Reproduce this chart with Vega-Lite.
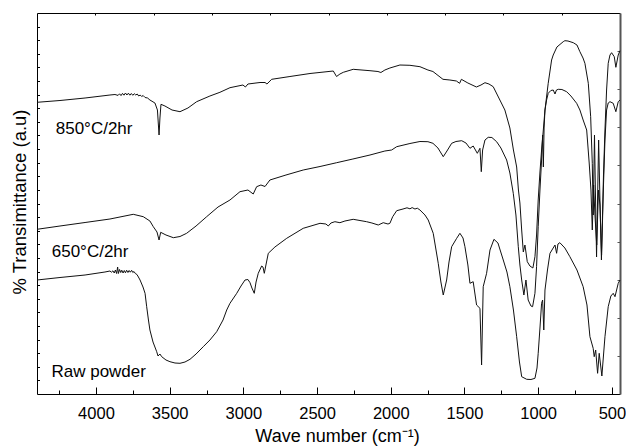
{
  "$schema": "https://vega.github.io/schema/vega-lite/v6.json",
  "width": 583,
  "height": 381,
  "autosize": {"type": "none"},
  "padding": {"left": 37, "top": 13, "right": 6, "bottom": 52},
  "config": {"view": {"stroke": null}, "font": "Liberation Sans"},
  "datasets": {
    "spectra": [
      {"series":"850","wn":4400,"T":291.7},{"series":"850","wn":4244,"T":293.5},{"series":"850","wn":4074,"T":296},{"series":"850","wn":3905,"T":299},{"series":"850","wn":3871,"T":299.5},{"series":"850","wn":3850,"T":298.6},{"series":"850","wn":3840,"T":300.2},{"series":"850","wn":3830,"T":298.4},{"series":"850","wn":3820,"T":300.6},{"series":"850","wn":3810,"T":298.8},{"series":"850","wn":3800,"T":301},{"series":"850","wn":3790,"T":299},{"series":"850","wn":3780,"T":300.8},{"series":"850","wn":3770,"T":298.8},{"series":"850","wn":3760,"T":300.5},{"series":"850","wn":3750,"T":298.7},{"series":"850","wn":3740,"T":300.3},{"series":"850","wn":3730,"T":299},{"series":"850","wn":3720,"T":300},{"series":"850","wn":3710,"T":298},{"series":"850","wn":3700,"T":299},{"series":"850","wn":3690,"T":297.5},{"series":"850","wn":3680,"T":298.5},{"series":"850","wn":3667,"T":296.5},{"series":"850","wn":3650,"T":296},{"series":"850","wn":3634,"T":294},{"series":"850","wn":3600,"T":291},{"series":"850","wn":3583,"T":284},{"series":"850","wn":3572,"T":259},{"series":"850","wn":3566,"T":276},{"series":"850","wn":3559,"T":289.7},{"series":"850","wn":3532,"T":288},{"series":"850","wn":3484,"T":284},{"series":"850","wn":3430,"T":282.3},{"series":"850","wn":3376,"T":286},{"series":"850","wn":3317,"T":292.3},{"series":"850","wn":3227,"T":298},{"series":"850","wn":3159,"T":301.7},{"series":"850","wn":3091,"T":306.3},{"series":"850","wn":3003,"T":309},{"series":"850","wn":2986,"T":307},{"series":"850","wn":2969,"T":310},{"series":"850","wn":2887,"T":311.5},{"series":"850","wn":2853,"T":311.5},{"series":"850","wn":2840,"T":310},{"series":"850","wn":2808,"T":314.7},{"series":"850","wn":2684,"T":317.5},{"series":"850","wn":2548,"T":320.5},{"series":"850","wn":2390,"T":323},{"series":"850","wn":2368,"T":317.5},{"series":"850","wn":2345,"T":320},{"series":"850","wn":2322,"T":321.7},{"series":"850","wn":2255,"T":324.7},{"series":"850","wn":2141,"T":323.3},{"series":"850","wn":2087,"T":322.5},{"series":"850","wn":2067,"T":321.5},{"series":"850","wn":2040,"T":324},{"series":"850","wn":2006,"T":326},{"series":"850","wn":1938,"T":329},{"series":"850","wn":1870,"T":328.7},{"series":"850","wn":1802,"T":327.3},{"series":"850","wn":1748,"T":324},{"series":"850","wn":1714,"T":322.5},{"series":"850","wn":1646,"T":314.7},{"series":"850","wn":1599,"T":314},{"series":"850","wn":1555,"T":313},{"series":"850","wn":1533,"T":310.7},{"series":"850","wn":1521,"T":314.7},{"series":"850","wn":1477,"T":311},{"series":"850","wn":1419,"T":307},{"series":"850","wn":1388,"T":309},{"series":"850","wn":1361,"T":311.3},{"series":"850","wn":1334,"T":310},{"series":"850","wn":1305,"T":307.3},{"series":"850","wn":1260,"T":294},{"series":"850","wn":1226,"T":284},{"series":"850","wn":1192,"T":266},{"series":"850","wn":1168,"T":244},{"series":"850","wn":1146,"T":227},{"series":"850","wn":1134,"T":204},{"series":"850","wn":1124,"T":191},{"series":"850","wn":1112,"T":164},{"series":"850","wn":1101,"T":142},{"series":"850","wn":1090,"T":149},{"series":"850","wn":1074,"T":132.3},{"series":"850","wn":1056,"T":128},{"series":"850","wn":1036,"T":126},{"series":"850","wn":1022,"T":137.3},{"series":"850","wn":1011,"T":159},{"series":"850","wn":1000,"T":194},{"series":"850","wn":988,"T":222},{"series":"850","wn":977,"T":244},{"series":"850","wn":968,"T":259},{"series":"850","wn":954,"T":284},{"series":"850","wn":932,"T":310.7},{"series":"850","wn":909,"T":334},{"series":"850","wn":898,"T":339},{"series":"850","wn":873,"T":347},{"series":"850","wn":830,"T":352.3},{"series":"850","wn":819,"T":353.3},{"series":"850","wn":798,"T":353},{"series":"850","wn":762,"T":351.3},{"series":"850","wn":737,"T":349},{"series":"850","wn":717,"T":342.3},{"series":"850","wn":696,"T":336},{"series":"850","wn":683,"T":330.7},{"series":"850","wn":660,"T":310.7},{"series":"850","wn":644,"T":277.3},{"series":"850","wn":633,"T":230.7},{"series":"850","wn":627,"T":179},{"series":"850","wn":618,"T":259},{"series":"850","wn":612,"T":204},{"series":"850","wn":604,"T":137},{"series":"850","wn":590,"T":254},{"series":"850","wn":581,"T":194},{"series":"850","wn":571,"T":134},{"series":"850","wn":557,"T":219},{"series":"850","wn":547,"T":264},{"series":"850","wn":536,"T":304},{"series":"850","wn":525,"T":330.7},{"series":"850","wn":513,"T":339},{"series":"850","wn":502,"T":341.3},{"series":"850","wn":484,"T":337.3},{"series":"850","wn":473,"T":326.7},{"series":"850","wn":457,"T":339},{"series":"850","wn":445,"T":343.3},
      {"series":"650","wn":4400,"T":164.7},{"series":"650","wn":4244,"T":168},{"series":"650","wn":4074,"T":171.5},{"series":"650","wn":3905,"T":175},{"series":"650","wn":3747,"T":179.7},{"series":"650","wn":3679,"T":177.3},{"series":"650","wn":3634,"T":173},{"series":"650","wn":3611,"T":167.3},{"series":"650","wn":3586,"T":162},{"series":"650","wn":3572,"T":154},{"series":"650","wn":3561,"T":161.7},{"series":"650","wn":3525,"T":159},{"series":"650","wn":3475,"T":156.3},{"series":"650","wn":3430,"T":157.5},{"series":"650","wn":3385,"T":160.7},{"series":"650","wn":3321,"T":168},{"series":"650","wn":3249,"T":177.3},{"series":"650","wn":3172,"T":187},{"series":"650","wn":3091,"T":194},{"series":"650","wn":3023,"T":202.3},{"series":"650","wn":2969,"T":204},{"series":"650","wn":2933,"T":200},{"series":"650","wn":2910,"T":207.3},{"series":"650","wn":2881,"T":209},{"series":"650","wn":2853,"T":207.5},{"series":"650","wn":2820,"T":214},{"series":"650","wn":2711,"T":219},{"series":"650","wn":2594,"T":224},{"series":"650","wn":2480,"T":227.5},{"series":"650","wn":2367,"T":231.3},{"series":"650","wn":2257,"T":235},{"series":"650","wn":2141,"T":239},{"series":"650","wn":2040,"T":243},{"series":"650","wn":1994,"T":244},{"series":"650","wn":1960,"T":247.3},{"series":"650","wn":1870,"T":250.5},{"series":"650","wn":1802,"T":252.5},{"series":"650","wn":1748,"T":252.3},{"series":"650","wn":1714,"T":250.7},{"series":"650","wn":1680,"T":246},{"series":"650","wn":1644,"T":237.3},{"series":"650","wn":1619,"T":243},{"series":"650","wn":1587,"T":250.7},{"series":"650","wn":1558,"T":252.5},{"series":"650","wn":1519,"T":253.3},{"series":"650","wn":1490,"T":251},{"series":"650","wn":1463,"T":245.7},{"series":"650","wn":1441,"T":248},{"series":"650","wn":1413,"T":240.7},{"series":"650","wn":1395,"T":245.7},{"series":"650","wn":1386,"T":222.3},{"series":"650","wn":1377,"T":244},{"series":"650","wn":1361,"T":254},{"series":"650","wn":1339,"T":256.7},{"series":"650","wn":1314,"T":256.5},{"series":"650","wn":1282,"T":252.3},{"series":"650","wn":1253,"T":246},{"series":"650","wn":1214,"T":234},{"series":"650","wn":1192,"T":221},{"series":"650","wn":1169,"T":200.7},{"series":"650","wn":1151,"T":179},{"series":"650","wn":1135,"T":147.3},{"series":"650","wn":1124,"T":129},{"series":"650","wn":1112,"T":114},{"series":"650","wn":1097,"T":99},{"series":"650","wn":1083,"T":114},{"series":"650","wn":1068,"T":94},{"series":"650","wn":1049,"T":88},{"series":"650","wn":1038,"T":87.3},{"series":"650","wn":1022,"T":100.7},{"series":"650","wn":1011,"T":127.3},{"series":"650","wn":1000,"T":167.3},{"series":"650","wn":988,"T":204},{"series":"650","wn":977,"T":234},{"series":"650","wn":970,"T":259},{"series":"650","wn":965,"T":227},{"series":"650","wn":960,"T":266},{"series":"650","wn":954,"T":284},{"series":"650","wn":943,"T":294},{"series":"650","wn":932,"T":300.7},{"series":"650","wn":914,"T":303.5},{"series":"650","wn":898,"T":304},{"series":"650","wn":886,"T":300},{"series":"650","wn":876,"T":304},{"series":"650","wn":864,"T":304.7},{"series":"650","wn":839,"T":304.5},{"series":"650","wn":807,"T":302.3},{"series":"650","wn":778,"T":298},{"series":"650","wn":739,"T":290.7},{"series":"650","wn":717,"T":284},{"series":"650","wn":695,"T":274},{"series":"650","wn":671,"T":264},{"series":"650","wn":654,"T":231},{"series":"650","wn":642,"T":204},{"series":"650","wn":633,"T":164},{"series":"650","wn":624,"T":209},{"series":"650","wn":615,"T":179},{"series":"650","wn":603,"T":149},{"series":"650","wn":591,"T":204},{"series":"650","wn":581,"T":189},{"series":"650","wn":570,"T":139},{"series":"650","wn":557,"T":209},{"series":"650","wn":547,"T":254},{"series":"650","wn":536,"T":284},{"series":"650","wn":525,"T":291},{"series":"650","wn":513,"T":292.3},{"series":"650","wn":491,"T":290.7},{"series":"650","wn":473,"T":282.3},{"series":"650","wn":457,"T":292.3},{"series":"650","wn":445,"T":294},
      {"series":"raw","wn":4400,"T":114},{"series":"raw","wn":4244,"T":116.5},{"series":"raw","wn":4074,"T":119},{"series":"raw","wn":3939,"T":122},{"series":"raw","wn":3905,"T":123},{"series":"raw","wn":3895,"T":121.8},{"series":"raw","wn":3885,"T":123.2},{"series":"raw","wn":3876,"T":121},{"series":"raw","wn":3868,"T":124},{"series":"raw","wn":3860,"T":120.5},{"series":"raw","wn":3853,"T":127},{"series":"raw","wn":3848,"T":120.5},{"series":"raw","wn":3840,"T":124.5},{"series":"raw","wn":3832,"T":121.5},{"series":"raw","wn":3825,"T":123.8},{"series":"raw","wn":3816,"T":121},{"series":"raw","wn":3808,"T":123.5},{"series":"raw","wn":3800,"T":121.2},{"series":"raw","wn":3792,"T":123.8},{"series":"raw","wn":3783,"T":121.5},{"series":"raw","wn":3775,"T":123.5},{"series":"raw","wn":3767,"T":121.8},{"series":"raw","wn":3758,"T":123.7},{"series":"raw","wn":3750,"T":121.5},{"series":"raw","wn":3742,"T":122.5},{"series":"raw","wn":3733,"T":120.5},{"series":"raw","wn":3722,"T":119.5},{"series":"raw","wn":3712,"T":117},{"series":"raw","wn":3701,"T":114},{"series":"raw","wn":3681,"T":107},{"series":"raw","wn":3667,"T":100.7},{"series":"raw","wn":3656,"T":87.3},{"series":"raw","wn":3644,"T":74},{"series":"raw","wn":3634,"T":64},{"series":"raw","wn":3613,"T":52},{"series":"raw","wn":3588,"T":42.3},{"series":"raw","wn":3579,"T":38},{"series":"raw","wn":3566,"T":40},{"series":"raw","wn":3554,"T":37.3},{"series":"raw","wn":3525,"T":34},{"series":"raw","wn":3498,"T":32.3},{"series":"raw","wn":3464,"T":31},{"series":"raw","wn":3430,"T":30.7},{"series":"raw","wn":3396,"T":32},{"series":"raw","wn":3362,"T":34.7},{"series":"raw","wn":3321,"T":40},{"series":"raw","wn":3272,"T":47.3},{"series":"raw","wn":3227,"T":54},{"series":"raw","wn":3181,"T":62.3},{"series":"raw","wn":3138,"T":74},{"series":"raw","wn":3113,"T":84},{"series":"raw","wn":3091,"T":90.7},{"series":"raw","wn":3045,"T":100.7},{"series":"raw","wn":3016,"T":108},{"series":"raw","wn":2989,"T":114},{"series":"raw","wn":2969,"T":114.5},{"series":"raw","wn":2955,"T":111.3},{"series":"raw","wn":2942,"T":106},{"series":"raw","wn":2926,"T":100.7},{"series":"raw","wn":2914,"T":112},{"series":"raw","wn":2899,"T":120.7},{"series":"raw","wn":2876,"T":128},{"series":"raw","wn":2867,"T":127},{"series":"raw","wn":2858,"T":120.7},{"series":"raw","wn":2847,"T":129},{"series":"raw","wn":2831,"T":140.7},{"series":"raw","wn":2786,"T":147},{"series":"raw","wn":2706,"T":155.7},{"series":"raw","wn":2594,"T":165.7},{"series":"raw","wn":2480,"T":170.7},{"series":"raw","wn":2440,"T":170},{"series":"raw","wn":2424,"T":168},{"series":"raw","wn":2406,"T":171},{"series":"raw","wn":2379,"T":172.3},{"series":"raw","wn":2345,"T":171.3},{"series":"raw","wn":2311,"T":173},{"series":"raw","wn":2255,"T":174.7},{"series":"raw","wn":2164,"T":172.3},{"series":"raw","wn":2128,"T":171},{"series":"raw","wn":2085,"T":169},{"series":"raw","wn":2051,"T":171.3},{"series":"raw","wn":2019,"T":170},{"series":"raw","wn":2006,"T":170.7},{"series":"raw","wn":1987,"T":177.3},{"series":"raw","wn":1960,"T":183.3},{"series":"raw","wn":1917,"T":185},{"series":"raw","wn":1890,"T":186.2},{"series":"raw","wn":1870,"T":185.2},{"series":"raw","wn":1855,"T":186.4},{"series":"raw","wn":1836,"T":185},{"series":"raw","wn":1820,"T":185.8},{"series":"raw","wn":1802,"T":184},{"series":"raw","wn":1768,"T":179},{"series":"raw","wn":1746,"T":174},{"series":"raw","wn":1712,"T":160.7},{"series":"raw","wn":1678,"T":130.7},{"series":"raw","wn":1660,"T":112},{"series":"raw","wn":1644,"T":99},{"series":"raw","wn":1621,"T":114},{"series":"raw","wn":1605,"T":132},{"series":"raw","wn":1587,"T":147.3},{"series":"raw","wn":1553,"T":155.7},{"series":"raw","wn":1531,"T":160.7},{"series":"raw","wn":1510,"T":156},{"series":"raw","wn":1497,"T":147.3},{"series":"raw","wn":1477,"T":129},{"series":"raw","wn":1463,"T":110.7},{"series":"raw","wn":1441,"T":112.3},{"series":"raw","wn":1418,"T":89},{"series":"raw","wn":1395,"T":85.7},{"series":"raw","wn":1384,"T":29},{"series":"raw","wn":1373,"T":107.3},{"series":"raw","wn":1350,"T":120.7},{"series":"raw","wn":1327,"T":144},{"series":"raw","wn":1300,"T":154.7},{"series":"raw","wn":1273,"T":151},{"series":"raw","wn":1237,"T":134},{"series":"raw","wn":1212,"T":122},{"series":"raw","wn":1192,"T":107.3},{"series":"raw","wn":1168,"T":84},{"series":"raw","wn":1146,"T":57.3},{"series":"raw","wn":1127,"T":32},{"series":"raw","wn":1112,"T":17.3},{"series":"raw","wn":1078,"T":14.7},{"series":"raw","wn":1049,"T":14.5},{"series":"raw","wn":1022,"T":15.7},{"series":"raw","wn":1008,"T":26},{"series":"raw","wn":1000,"T":40.7},{"series":"raw","wn":988,"T":66},{"series":"raw","wn":977,"T":90.7},{"series":"raw","wn":970,"T":94},{"series":"raw","wn":962,"T":64},{"series":"raw","wn":954,"T":104},{"series":"raw","wn":937,"T":124},{"series":"raw","wn":920,"T":140.7},{"series":"raw","wn":886,"T":149},{"series":"raw","wn":875,"T":140.7},{"series":"raw","wn":866,"T":150},{"series":"raw","wn":853,"T":151.3},{"series":"raw","wn":819,"T":146},{"series":"raw","wn":785,"T":137.3},{"series":"raw","wn":737,"T":124},{"series":"raw","wn":695,"T":107.3},{"series":"raw","wn":669,"T":89},{"series":"raw","wn":649,"T":57.3},{"series":"raw","wn":627,"T":45.7},{"series":"raw","wn":620,"T":37.3},{"series":"raw","wn":610,"T":44},{"series":"raw","wn":597,"T":20.7},{"series":"raw","wn":586,"T":40.7},{"series":"raw","wn":568,"T":18},{"series":"raw","wn":547,"T":57.3},{"series":"raw","wn":525,"T":87.3},{"series":"raw","wn":507,"T":98},{"series":"raw","wn":491,"T":100.7},{"series":"raw","wn":479,"T":97.3},{"series":"raw","wn":457,"T":110.7},{"series":"raw","wn":445,"T":114}
    ],
    "labels": [
      {"label": "850°C/2hr", "wn": 4273, "T": 260},
      {"label": "650°C/2hr", "wn": 4300, "T": 137},
      {"label": "Raw powder", "wn": 4302, "T": 17.3}
    ]
  },
  "layer": [
    {
      "data": {"name": "spectra"},
      "mark": {"type": "line", "color": "#111", "strokeWidth": 1, "interpolate": "linear"},
      "encoding": {
        "x": {
          "field": "wn", "type": "quantitative",
          "scale": {"domain": [445, 4400], "reverse": true, "nice": false, "zero": false},
          "axis": {
            "orient": "bottom",
            "values": [4250, 4000, 3750, 3500, 3250, 3000, 2750, 2500, 2250, 2000, 1750, 1500, 1250, 1000, 750, 500],
            "format": "d",
            "labelExpr": "datum.value % 500 === 0 ? datum.label : ''",
            "tickSize": {"condition": {"test": "datum.value % 500 === 0", "value": -7}, "value": -4},
            "tickColor": "#000", "tickWidth": 1,
            "domainColor": "#000", "domainWidth": 1,
            "labelFont": "Liberation Sans", "labelFontSize": 16.5, "labelColor": "#000",
            "labelPadding": 18, "labelFlush": false, "labelOverlap": false,
            "grid": false,
            "title": "Wave number (cm⁻¹)",
            "titleFont": "Liberation Sans", "titleFontSize": 18, "titleFontWeight": "normal", "titleColor": "#000",
            "titleX": 300, "titleY": 47, "titleBaseline": "alphabetic", "titleAlign": "center"
          }
        },
        "y": {
          "field": "T", "type": "quantitative",
          "scale": {"domain": [0, 381], "nice": false, "zero": false},
          "axis": {
            "orient": "left",
            "values": [13.61, 27.21, 40.82, 54.43, 68.04, 81.64, 95.25, 108.86, 122.46, 136.07, 149.68, 163.29, 176.89, 190.5, 204.11, 217.71, 231.32, 244.93, 258.54, 272.14, 285.75, 299.36, 312.96, 326.57, 340.18, 353.79, 367.39],
            "labels": false,
            "tickSize": -2.5, "tickColor": "#000",
            "domainColor": "#000", "domainWidth": 1,
            "grid": false,
            "title": "% Transimittance (a.u)",
            "titleFont": "Liberation Sans", "titleFontSize": 18.5, "titleFontWeight": "normal", "titleColor": "#000",
            "titleAngle": 270, "titleX": -12, "titleY": 188.5, "titleBaseline": "alphabetic", "titleAlign": "center"
          }
        },
        "detail": {"field": "series"}
      }
    },
    {
      "data": {"name": "labels"},
      "mark": {"type": "text", "align": "left", "baseline": "alphabetic", "font": "Liberation Sans", "fontSize": 17, "color": "#000"},
      "encoding": {
        "x": {
          "field": "wn", "type": "quantitative",
          "scale": {"domain": [445, 4400], "reverse": true, "nice": false, "zero": false},
          "axis": {
            "orient": "top",
            "values": [4004.5, 3609, 3213.5, 2818, 2422.5, 2027, 1631.5, 1236, 840.5],
            "labels": false, "tickSize": -2, "tickColor": "#000",
            "domainColor": "#000", "domainWidth": 1, "grid": false, "title": null
          }
        },
        "y": {
          "field": "T", "type": "quantitative",
          "scale": {"domain": [0, 381], "nice": false, "zero": false},
          "axis": {
            "orient": "right",
            "values": [38.1, 76.2, 114.3, 152.4, 190.5, 228.6, 266.7, 304.8, 342.9],
            "labels": false, "tickSize": -3, "tickColor": "#555",
            "domainColor": "#555", "domainWidth": 2, "grid": false, "title": null
          }
        },
        "text": {"field": "label"}
      }
    }
  ],
  "resolve": {"axis": {"x": "independent", "y": "independent"}}
}
